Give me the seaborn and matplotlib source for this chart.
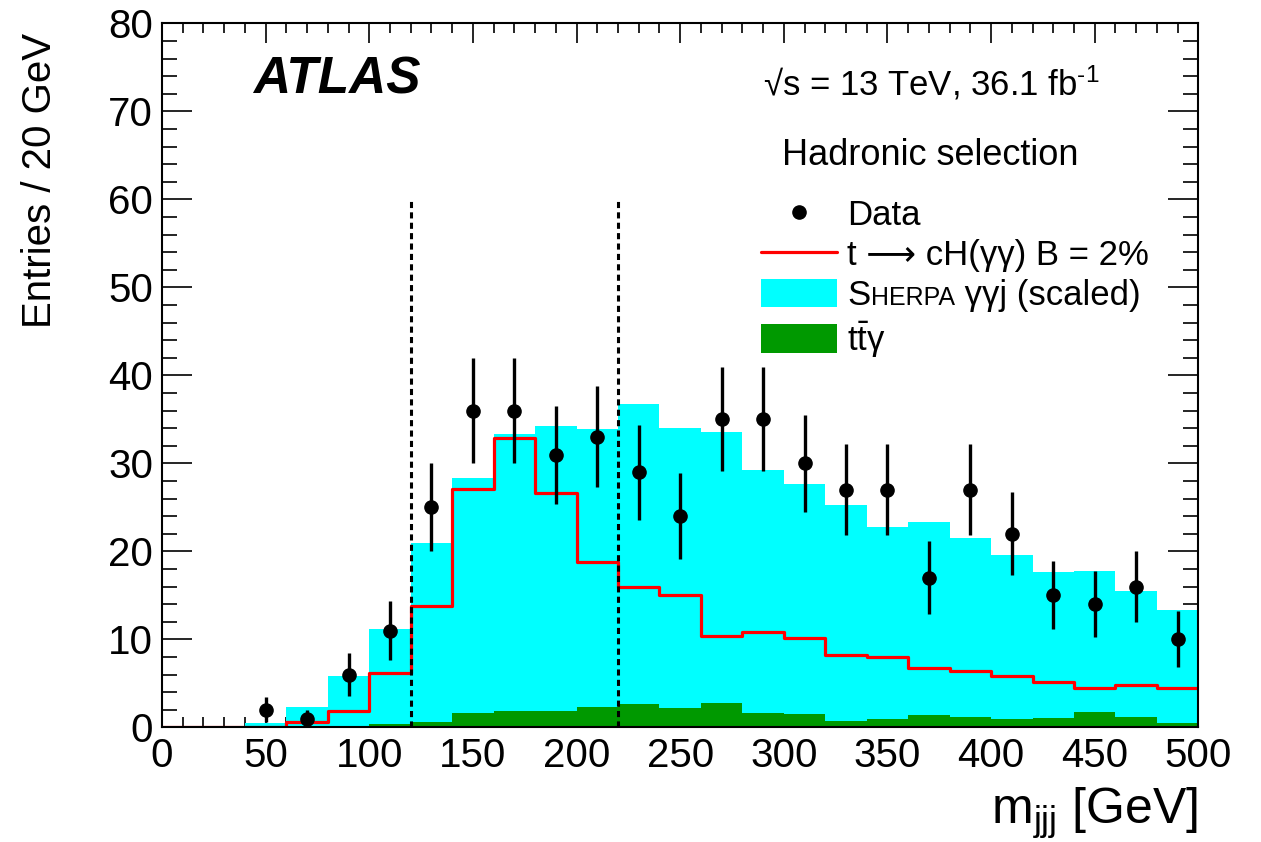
import numpy as np
import pandas as pd
import matplotlib
matplotlib.use("Agg")
import matplotlib.pyplot as plt
import seaborn as sns
from matplotlib.lines import Line2D
from matplotlib.patches import Patch
from matplotlib.ticker import MultipleLocator

# ─── DATA ────────────────────────────────────────────────────
bin_centers = list(range(10, 500, 20))

# top of the stacked background (Sherpa γγj on top of ttγ)
stack_top = [0, 0, 0.5, 2.3, 5.8, 11.2, 20.9, 28.3, 33.3, 34.2, 33.9, 36.7, 34.0,
             33.6, 29.2, 27.6, 25.3, 22.8, 23.3, 21.5, 19.6, 17.7, 17.8, 15.5, 13.3]
ttgamma = [0, 0, 0, 0, 0.1, 0.4, 0.65, 1.6, 1.9, 1.8, 2.3, 2.6, 2.2,
           2.8, 1.6, 1.55, 0.7, 0.9, 1.4, 1.2, 0.9, 1.1, 1.7, 1.2, 0.5]
signal = [0, 0, 0, 0.65, 1.9, 6.2, 13.75, 27.1, 32.9, 26.6, 18.75, 16.0, 15.0,
          10.4, 10.8, 10.2, 8.2, 8.0, 6.7, 6.4, 5.8, 5.1, 4.5, 4.8, 4.5]

data_x = [50, 70, 90, 110, 130, 150, 170, 190, 210, 230, 250, 270,
          290, 310, 330, 350, 370, 390, 410, 430, 450, 470, 490]
data_y = [2, 1, 6, 11, 25, 36, 36, 31, 33, 29, 24, 35,
          35, 30, 27, 27, 17, 27, 22, 15, 14, 16, 10]

window_cuts = [120, 220]

hists = pd.DataFrame({"mjjj": bin_centers, "stack": stack_top,
                      "ttg": ttgamma, "sig": signal})

# ─── STYLE ───────────────────────────────────────────────────
sns.set_style("ticks")
plt.rcParams['font.family'] = ['Liberation Sans', 'DejaVu Sans']
plt.rcParams['mathtext.fontset'] = 'custom'
plt.rcParams['mathtext.rm'] = 'Liberation Sans'
plt.rcParams['mathtext.it'] = 'Liberation Sans:italic'
plt.rcParams['mathtext.bf'] = 'Liberation Sans:bold'
for key in ['text.color', 'axes.labelcolor', 'xtick.color', 'ytick.color',
            'axes.edgecolor']:
    plt.rcParams[key] = 'black'

CYAN = '#00FFFF'
GREEN = '#009900'
RED = '#FF0000'

fig = plt.figure(figsize=(12.61, 8.42), dpi=100)
ax = fig.add_axes([0.1285, 0.1362, 0.8218, 0.8361])

# ─── HISTOGRAMS ──────────────────────────────────────────────
hist_kws = dict(data=hists, x="mjjj", binwidth=20, binrange=(0, 500),
                element='step', ax=ax)
sns.histplot(weights="stack", fill=True, color=CYAN, alpha=1, linewidth=0, **hist_kws)
sns.histplot(weights="ttg", fill=True, color=GREEN, alpha=1, linewidth=0, **hist_kws)
sns.histplot(weights="sig", fill=False, color=RED, linewidth=2.3, **hist_kws)

# data points with sqrt(N) errors
ax.errorbar(data_x, data_y, yerr=np.sqrt(data_y), fmt='o', color='black',
            markersize=9.5, elinewidth=2.4, capsize=0, zorder=5)

# mass window
for xc in window_cuts:
    ax.plot([xc, xc], [0, 60], color='black', linewidth=2.2,
            linestyle=(0, (2, 1.4)), zorder=4)

# ─── AXES ────────────────────────────────────────────────────
ax.set_xlim(0, 500)
ax.set_ylim(0, 80)
ax.xaxis.set_major_locator(MultipleLocator(50))
ax.xaxis.set_minor_locator(MultipleLocator(10))
ax.yaxis.set_major_locator(MultipleLocator(10))
ax.yaxis.set_minor_locator(MultipleLocator(2))
ax.tick_params(which='both', direction='in', top=True, right=True,
               labelsize=29, width=1.2, color='black', labelcolor='black')
ax.tick_params(axis='x', which='major', length=14.4, pad=7)
ax.tick_params(axis='x', which='minor', length=7.2)
ax.tick_params(axis='y', which='major', length=21.6, pad=6.5)
ax.tick_params(axis='y', which='minor', length=10.8)
for sp in ax.spines.values():
    sp.set_linewidth(1.5)
    sp.set_color('black')

ax.set_xlabel(r"m$_{\mathrm{jjj}}$ [GeV]", fontsize=36, loc='right')
ax.xaxis.set_label_coords(1.0, -0.083)
ax.set_ylabel("Entries / 20 GeV", fontsize=29, loc='top')
ax.yaxis.set_label_coords(-0.099, 0.986)

# ─── LABELS ──────────────────────────────────────────────────
ax.text(0.0878, 0.901, "ATLAS", transform=ax.transAxes, fontsize=37,
        fontweight='bold', fontstyle='italic')
ax.text(0.5795, 0.898, "\u221as = 13 TeV, 36.1 fb$^{\\text{-1}}$",
        transform=ax.transAxes, fontsize=25)
ax.text(0.598, 0.7987, "Hadronic selection", transform=ax.transAxes,
        fontsize=26)

# ─── LEGEND ──────────────────────────────────────────────────
LEG_FS = 25
handles = [
    Line2D([], [], marker='o', color='black', linestyle='none', markersize=9.5),
    Line2D([], [], color=RED, linewidth=2.3),
    Patch(facecolor=CYAN, edgecolor='none'),
    Patch(facecolor=GREEN, edgecolor='none'),
]
labels = [
    "Data",
    "t \u27f6 cH(\u03b3\u03b3) B = 2%",
    "S",
    r"t$\bar{\mathrm{t}}$$\mathrm{\gamma}$",
]
leg = ax.legend(handles, labels, loc='upper left', bbox_to_anchor=(0.5776, 0.751),
                frameon=False, fontsize=LEG_FS, borderpad=0, borderaxespad=0,
                handlelength=2.2, handleheight=0.88, handletextpad=0.3,
                labelspacing=0.2)

# SHERPA in small capitals: "S" + smaller "HERPA" + rest of the label
sherpa_txt = leg.get_texts()[2]
small = ax.annotate("HERPA", xy=(1, 0), xycoords=sherpa_txt,
                    xytext=(0, 0.21 * LEG_FS), textcoords='offset points',
                    fontsize=18, va='baseline', ha='left', zorder=10)
ax.annotate(" \u03b3\u03b3j (scaled)", xy=(1, 0), xycoords=small,
            xytext=(0, 0.21 * 18), textcoords='offset points',
            fontsize=LEG_FS, va='baseline', ha='left', zorder=11)

fig.savefig("out.png", dpi=100)
